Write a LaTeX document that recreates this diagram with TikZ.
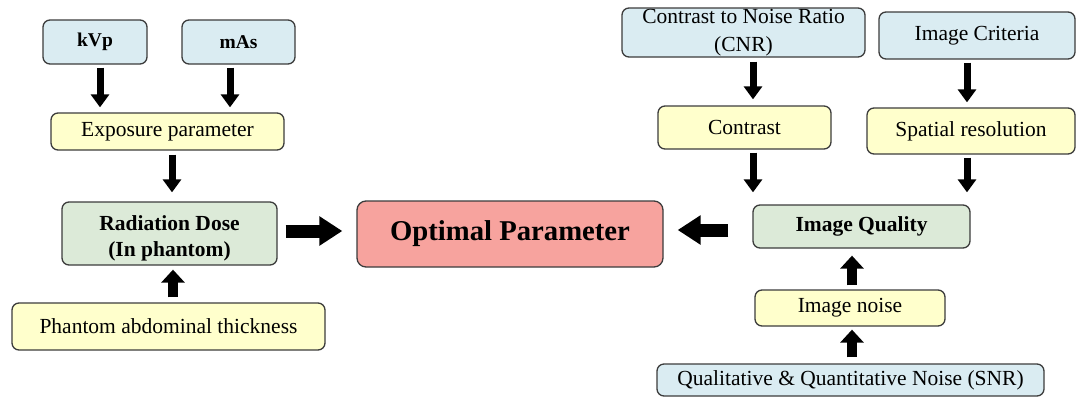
\documentclass[tikz,border=0pt]{standalone}
\usepackage{fontspec}
\setmainfont{Liberation Serif}
\usetikzlibrary{arrows.meta}
\definecolor{bluebox}{RGB}{218,236,242}
\definecolor{yellowbox}{RGB}{255,255,204}
\definecolor{greenbox}{RGB}{220,234,216}
\definecolor{pinkbox}{RGB}{247,163,158}
\definecolor{bordergray}{RGB}{60,60,60}
\begin{document}
\begin{tikzpicture}[x=1pt,y=-1pt,
  box/.style={draw=bordergray,line width=1.3pt,rounded corners=7pt,inner sep=0pt,
    font=\fontsize{21.5}{26}\selectfont,align=center},
  bluenode/.style={box,fill=bluebox},
  yellownode/.style={box,fill=yellowbox},
  greennode/.style={box,fill=greenbox,font=\fontsize{21.5}{26}\selectfont\bfseries},
  downarr/.style={line width=7pt,-{Triangle[width=18pt,length=13pt]}},
  uparr/.style={line width=10pt,-{Triangle[width=23pt,length=13pt]}},
  bigarr/.style={line width=13pt,-{Triangle[width=28pt,length=23pt]}}]
\useasboundingbox (0,0) rectangle (1076,397);

% left side
\node[bluenode,minimum width=104pt,minimum height=44pt,font=\fontsize{19.5}{22}\selectfont\bfseries] (kvp) at (95,42) {kVp};
\node[bluenode,minimum width=113pt,minimum height=44pt,font=\fontsize{19.5}{22}\selectfont\bfseries] (mas) at (238.5,42) {mAs};
\node[yellownode,minimum width=233pt,minimum height=37pt] (exp) at (167.5,131.5) {Exposure parameter};
\node[greennode,minimum width=215pt,minimum height=63pt] (rad) at (169.5,233.5) {\rule{0pt}{24pt}Radiation Dose\\(In phantom)};
\node[yellownode,minimum width=313pt,minimum height=47pt] (ph) at (168.5,326.5) {Phantom abdominal thickness};

% centre
\node[box,fill=pinkbox,minimum width=306pt,minimum height=66pt,rounded corners=9pt,
  font=\fontsize{28.7}{32}\selectfont\bfseries] (opt) at (510,234) {Optimal Parameter};

% right side
\node[bluenode,minimum width=243pt,minimum height=49pt,font=\fontsize{21.5}{28}\selectfont] (cnr) at (743.5,32.5) {Contrast to Noise Ratio\\(CNR)};
\node[bluenode,minimum width=196pt,minimum height=47pt] (crit) at (977,35.5) {Image Criteria};
\node[yellownode,minimum width=173pt,minimum height=43pt] (con) at (744.5,127.5) {Contrast};
\node[yellownode,minimum width=208pt,minimum height=46pt] (sp) at (971,131) {Spatial resolution};
\node[greennode,minimum width=217pt,minimum height=43pt] (iq) at (861.5,226.5) {Image Quality};
\node[yellownode,minimum width=190pt,minimum height=36pt] (noise) at (850,308) {Image noise};
\node[bluenode,minimum width=387pt,minimum height=32pt] (snr) at (850.5,380) {Qualitative \& Quantitative Noise (SNR)};

% arrows
\draw[downarr,shorten <=3pt,shorten >=5pt] ([xshift=5pt]kvp.south) -- ([xshift=5pt]kvp.south |- exp.north);
\draw[downarr,shorten <=3pt,shorten >=5pt] ([xshift=-8.5pt]mas.south) -- ([xshift=-8.5pt]mas.south |- exp.north);
\draw[downarr,shorten <=4pt,shorten >=9pt] ([xshift=4.5pt]exp.south) -- ([xshift=2.5pt]rad.north);
\draw[uparr,shorten <=5pt,shorten >=4pt] ([xshift=4.5pt]ph.north) -- ([xshift=3.5pt]rad.south);
\draw[bigarr,shorten <=8pt,shorten >=14pt] ([yshift=2.5pt]rad.east) -- ([yshift=3pt]opt.west);
\draw[bigarr,shorten <=24pt,shorten >=14pt] ([yshift=-3.5pt]iq.west) -- ([yshift=4pt]opt.east);
\draw[downarr,shorten <=4pt,shorten >=6pt] ([xshift=9.5pt]cnr.south) -- ([xshift=8.5pt]con.north);
\draw[downarr,shorten <=3pt,shorten >=5pt] ([xshift=-10pt]crit.south) -- ([xshift=-4pt]sp.north);
\draw[downarr,shorten <=3pt,shorten >=12pt] ([xshift=8.5pt]con.south) -- ([xshift=-108.5pt]iq.north);
\draw[downarr,shorten <=3pt,shorten >=12pt] ([xshift=-4pt]sp.south) -- ([xshift=105.5pt]iq.north);
\draw[uparr,shorten <=4pt,shorten >=7pt] ([xshift=2pt]noise.north) -- ([xshift=-9.5pt]iq.south);
\draw[uparr,shorten <=6pt,shorten >=3pt] ([xshift=1.5pt]snr.north) -- ([xshift=2pt]noise.south);
\end{tikzpicture}
\end{document}
